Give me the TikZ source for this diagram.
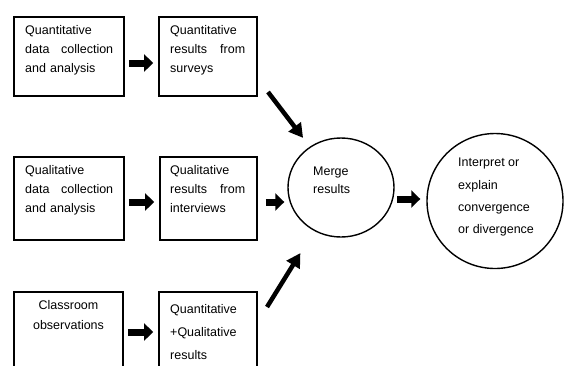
\documentclass[tikz,border=0pt]{standalone}
\usepackage{fontspec}
\setmainfont{Liberation Sans}
\usetikzlibrary{arrows.meta,shapes.geometric}
\hyphenpenalty=10000
\begin{document}
\begin{tikzpicture}[x=1pt,y=-1pt,
  box/.style={draw,line width=1.7pt,rectangle,inner sep=0pt},
  circ/.style={draw,line width=1.4pt,ellipse,inner sep=0pt},
  txt/.style={anchor=north west,inner sep=0pt,align=left,font=\fontsize{12.5}{19}\selectfont},
  harrow/.style={line width=7pt,-{Triangle[length=9pt,width=17pt]}},
  darrow/.style={line width=4.5pt,-{Triangle[length=14pt,width=15pt]}}]
\useasboundingbox (0,0) rectangle (564,365);
% row 1
\node[box,minimum width=110pt,minimum height=79pt] (a1) at (69,56.5) {};
\node[box,minimum width=98pt,minimum height=79pt] (b1) at (208,56.5) {};
% row 2
\node[box,minimum width=110pt,minimum height=83pt] (a2) at (69,198.5) {};
\node[box,minimum width=97pt,minimum height=83pt] (b2) at (208.5,198.5) {};
% row 3
\node[box,minimum width=109pt,minimum height=88pt] (a3) at (68.5,336) {};
\node[box,minimum width=98pt,minimum height=88pt] (b3) at (208,336) {};
% circles
\node[circ,minimum width=106pt,minimum height=99pt] (m) at (341,187.5) {};
\node[circ,minimum width=136pt,minimum height=135pt] (ip) at (495,201) {};
% texts
\node[txt,text width=88pt] (ta1) at (25,25.5) {Quantitative\\data\hfill collection\\and analysis};
\node[txt,text width=75pt] (tb1) at (170,25.5) {Quantitative\\results\hfill from\\surveys};
\node[txt,text width=88pt] (ta2) at (25,165.5) {Qualitative\\data\hfill collection\\and analysis};
\node[txt,text width=75pt] (tb2) at (170,165.5) {Qualitative\\results\hfill from\\interviews};
\node[txt,anchor=north,align=center,font=\fontsize{12.5}{20}\selectfont] (ta3) at (68.5,300) {Classroom\\observations};
\node[txt,font=\fontsize{12.5}{23}\selectfont] (tb3) at (170,304) {Quantitative\\+Qualitative\\results};
\node[txt,font=\fontsize{12.5}{17.5}\selectfont] (tm) at (313,167) {Merge\\results};
\node[txt,font=\fontsize{12.5}{22.3}\selectfont] (tip) at (458,158) {Interpret or\\explain\\convergence\\or divergence};
% horizontal arrows
\draw[harrow,shorten <=4pt,shorten >=5pt] ([yshift=-6.5pt]a1.east) -- ([yshift=-6.5pt]b1.west);
\draw[harrow,shorten <=4pt,shorten >=5pt] ([yshift=-3.5pt]a2.east) -- ([yshift=-3.5pt]b2.west);
\draw[harrow,shorten <=4pt,shorten >=5pt] ([yshift=4pt]a3.east) -- ([yshift=4pt]b3.west);
\coordinate (s2) at ([xshift=8pt,yshift=-3.5pt]b2.east);
\draw[harrow,shorten >=3pt] (s2) -- (s2 -| m.west);
\coordinate (s3) at (397,199);
\draw[harrow,shorten >=6pt] (s3) -- (s3 -| ip.west);
% diagonal arrows
\coordinate (d1) at (268,92);
\draw[darrow,shorten >=11pt] (d1) -- (m);
\coordinate (d2) at (267,307);
\draw[darrow,shorten >=26pt] (d2) -- (m);
\end{tikzpicture}
\end{document}
